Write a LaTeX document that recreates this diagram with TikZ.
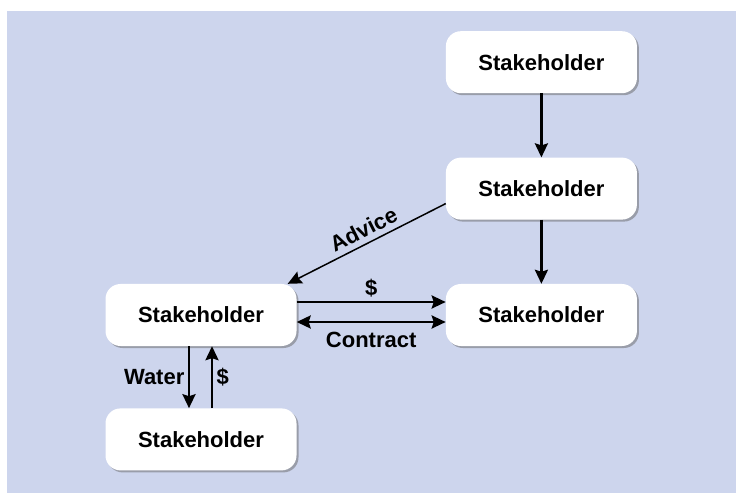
\documentclass[tikz,border=0pt]{standalone}
\usepackage{fontspec}
\setmainfont{Liberation Sans}
\usetikzlibrary{positioning,arrows.meta,shadows}
\definecolor{panelblue}{RGB}{205,213,237}

\begin{document}
\begin{tikzpicture}[x=1pt,y=1pt,
         holder/.style = {fill=white, rounded corners=15pt,
         minimum width=191pt, minimum height=62pt,
         font=\fontsize{22}{26}\selectfont\bfseries,
         drop shadow={shadow xshift=2pt, shadow yshift=-2pt, fill=black!60}},
         lbl/.style = {font=\fontsize{22}{26}\selectfont\bfseries},
         flow/.style = {line width=2.6pt, ->},
         advice/.style = {line width=1.5pt, <-},
         >={Stealth[length=14pt,width=13pt,inset=2pt]}
]

      \useasboundingbox (0,0) rectangle (736,493);
      \fill[panelblue] (7,0) rectangle (736,482);

      % stakeholders
      \node[holder]                    (h3) at (201,178) {Stakeholder};
      \node[holder, right=149pt of h3] (h2) {Stakeholder};
      \node[holder, above=64pt of h2]  (h1) {Stakeholder};
      \node[holder, above=64pt of h1]  (h0) {Stakeholder};
      \node[holder, below=62pt of h3]  (h4) {Stakeholder};

      % right column
      \draw[flow] (h0) -- (h1);
      \draw[flow] (h1) -- (h2);

      % advice
      \draw[advice] ([xshift=-9pt]h3.north east) -- ([yshift=-15pt]h1.west)
      node[pos=0.52, above=2pt, sloped, lbl] {Advice};

      % money and contract
      \draw[flow] ([yshift=13pt]h3.east) -- ([yshift=13pt]h2.west)
      node[midway, above, lbl] {\$};
      \draw[flow, <->] ([yshift=-7pt]h3.east) -- ([yshift=-7pt]h2.west)
      node[midway, below=6pt, lbl] {Contract};

      % water
      \draw[flow] ([xshift=-12pt]h3.south) -- ([xshift=-12pt]h4.north)
      node[midway, left, lbl] {Water};
      \draw[flow] ([xshift=11pt]h4.north) -- ([xshift=11pt]h3.south)
      node[midway, right, lbl] {\$};

\end{tikzpicture}
\end{document}
